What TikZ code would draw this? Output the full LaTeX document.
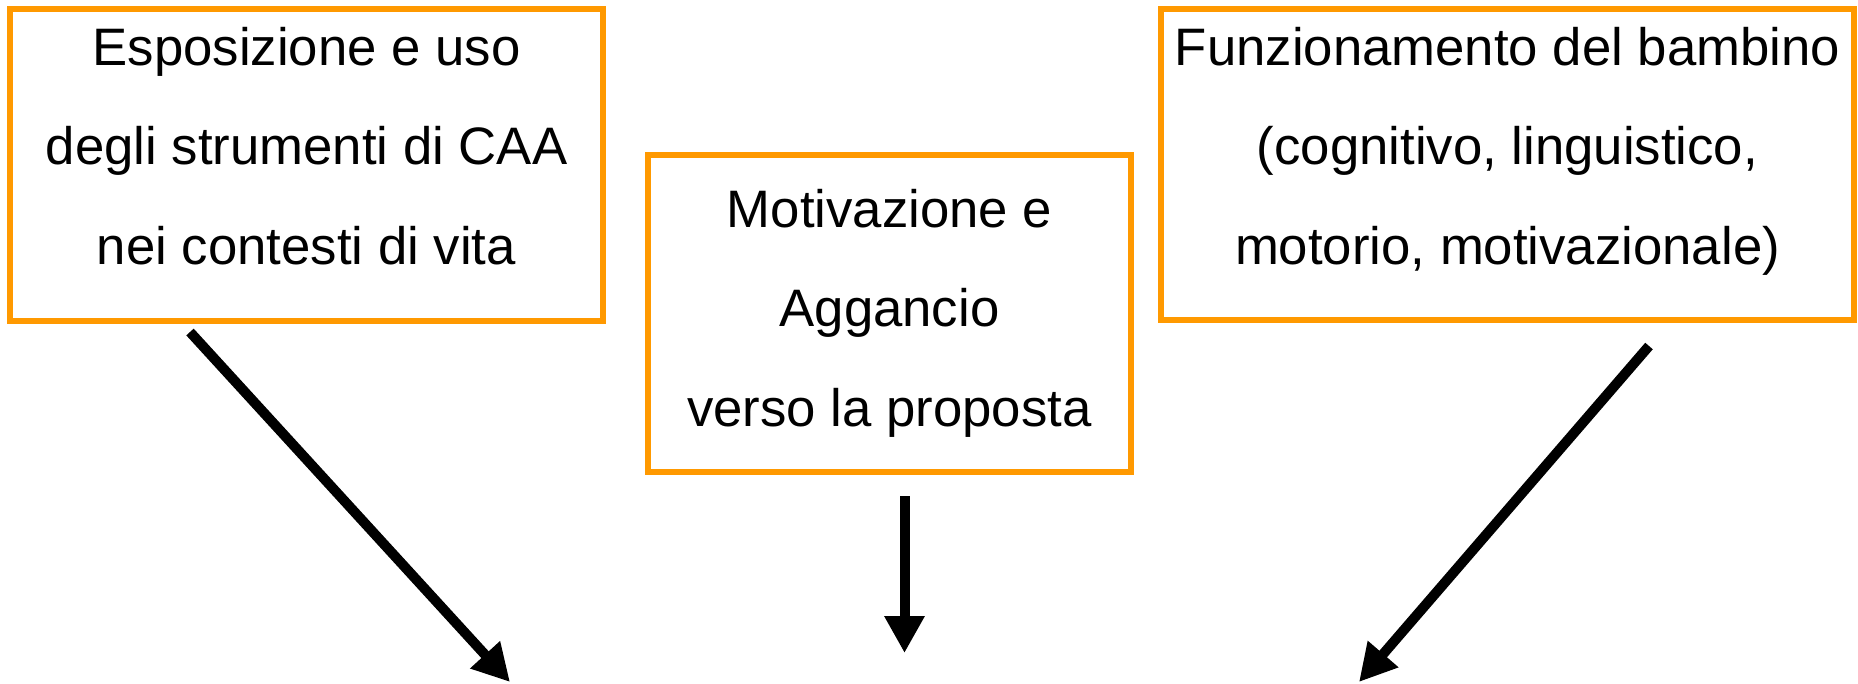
\documentclass[tikz,border=0pt]{standalone}
\usepackage{fontspec}
\setmainfont{Liberation Sans}
\usetikzlibrary{arrows.meta}
\definecolor{boxorange}{RGB}{255,153,0}
\begin{document}
\begin{tikzpicture}
	\tikzstyle{every node}=[font=\fontsize{15}{28.3}\selectfont]
	\tikzstyle{boxframe}=[draw=boxorange, line width=0.06cm, inner sep=0pt, outer sep=0pt]
	\tikzstyle{txt}=[align=center, inner sep=0pt]
	\tikzstyle{arr}=[line width=0.1cm, -{Triangle[width=0.38cm,length=0.37cm]}]
	
	\useasboundingbox (0,0) rectangle (18.58,-6.83);
	
	% left box
	\node [boxframe, minimum width=5.93cm, minimum height=3.12cm] (espo) at (3.065,-1.65) {};
	\node [txt] (espotxt) at (3.065,-1.46) {Esposizione e uso\\degli strumenti di CAA\\nei contesti di vita};
	
	% middle box
	\node [boxframe, minimum width=4.83cm, minimum height=3.17cm] (motiv) at (8.895,-3.135) {};
	\node [txt] (motivtxt) at (8.895,-3.13) {Motivazione e\\Aggancio\\verso la proposta};
	
	% right box
	\node [boxframe, minimum width=6.93cm, minimum height=3.11cm] (funz) at (15.075,-1.645) {};
	\node [txt] (funztxt) at (15.075,-1.51) {Funzionamento del bambino\\(cognitivo, linguistico,\\motorio, motivazionale)};
	
	\coordinate (espoout) at (1.90,-3.32);
	\coordinate (espoend) at (5.10,-6.82);
	\coordinate (motivout) at (9.045,-4.96);
	\coordinate (motivend) at (9.045,-6.53);
	\coordinate (funzout) at (16.49,-3.46);
	\coordinate (funzend) at (13.59,-6.82);
	
	\draw [arr] (espoout) -- (espoend);
	\draw [arr] (motivout) -- (motivend);
	\draw [arr] (funzout) -- (funzend);
\end{tikzpicture}
\end{document}
